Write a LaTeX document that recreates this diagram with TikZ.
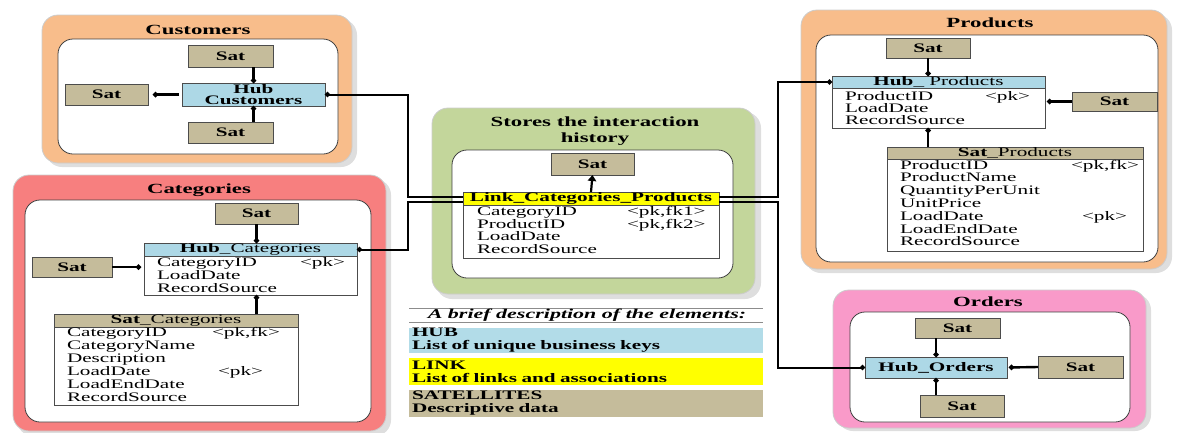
\documentclass[tikz,border=0pt]{standalone}
\usepackage{fontspec}
\setmainfont{Liberation Serif}[FakeStretch=1.63]
\usetikzlibrary{arrows.meta,calc}

\definecolor{peach}{HTML}{F8BD8B}
\definecolor{catred}{HTML}{F77F7F}
\definecolor{histgreen}{HTML}{C3D69B}
\definecolor{ordpink}{HTML}{F99AC9}
\definecolor{satc}{HTML}{C5BC9B}
\definecolor{hubc}{HTML}{ADD8E6}
\definecolor{legblue}{HTML}{B2DCE8}
\definecolor{linkc}{HTML}{FFFF00}

\begin{document}
\begin{tikzpicture}[x=1pt,y=-1pt,
  every node/.style={inner sep=0pt, outer sep=0pt},
  edge/.style={draw=black!70, line width=0.8pt},
  satbox/.style={edge, fill=satc, font=\fontsize{13}{13}\selectfont\bfseries},
  hubbox/.style={edge, fill=hubc, font=\fontsize{13}{11}\selectfont\bfseries, align=center},
  hdr/.style={edge, anchor=north west, font=\fontsize{13}{13}\selectfont},
  tbody/.style={edge, fill=white, anchor=north west},
  row/.style={anchor=mid west, font=\fontsize{13}{13}\selectfont},
  ptitle/.style={font=\fontsize{14}{16}\selectfont\bfseries, align=center},
  shadow/.style={fill=black!13, rounded corners=16pt},
  outer/.style={draw=white!80!black, line width=0.8pt, rounded corners=16pt},
  inner/.style={fill=white, draw=black!75, line width=0.8pt, rounded corners=15pt},
  sc/.style={line width=2.4pt, -{Circle[length=5pt]}},
  lc/.style={line width=2pt},
  legend/.style={anchor=north west, minimum width=354pt, minimum height=26pt,
    text width=348pt, align=left, font=\fontsize{13}{13}\selectfont\bfseries},
]
\useasboundingbox (0,0) rectangle (1179,432);

% ---------- panels ----------
% Customers
\fill[shadow] (46,19) rectangle (357,167);
\filldraw[outer, fill=peach] (42,15) rectangle (352,163);
\filldraw[inner] (58,39) rectangle (338,154);
\node[ptitle] (tcus) at (198,30) {Customers};

% Categories
\fill[shadow] (17,179) rectangle (391,436);
\filldraw[outer, fill=catred] (13,175) rectangle (386,431);
\filldraw[inner] (25,200) rectangle (371,422);
\node[ptitle] (tcat) at (199,190) {Categories};

% Link history
\fill[shadow] (436,112) rectangle (761,299);
\filldraw[outer, fill=histgreen] (432,108) rectangle (755,294);
\filldraw[inner] (452,150) rectangle (733,278);
\node[ptitle] (tlink) at (595,131) {Stores the interaction\\history};

% Products
\fill[shadow] (805,14) rectangle (1172,273);
\filldraw[outer, fill=peach] (801,10) rectangle (1167,269);
\filldraw[inner] (816,35) rectangle (1158,262);
\node[ptitle] (tprod) at (990,23) {Products};

% Orders
\fill[shadow] (837,294) rectangle (1151,431);
\filldraw[outer, fill=ordpink] (833,290) rectangle (1146,428);
\filldraw[inner] (850,312) rectangle (1130,422);
\node[ptitle] (tord) at (988,302) {Orders};

% ---------- Customers ----------
\node[satbox, minimum width=85pt, minimum height=22pt] (cs1) at (230.5,56) {Sat};
\node[hubbox, minimum width=143pt, minimum height=23pt] (hubcus) at (253.5,94.5) {Hub\\Customers};
\node[satbox, minimum width=83pt, minimum height=21pt] (cs2) at (106.5,94.5) {Sat};
\node[satbox, minimum width=85pt, minimum height=21pt] (cs3) at (230.5,132.5) {Sat};

\draw[sc] (hubcus.north |- cs1.south) -- (hubcus.north);
\draw[sc, shorten <=3pt, shorten >=5pt] (hubcus.west) -- (cs2.east);
\draw[sc] (hubcus.south |- cs3.north) -- (hubcus.south);

% ---------- Categories ----------
\node[satbox, minimum width=83pt, minimum height=21pt] (cat1) at (256.5,213.5) {Sat};
\node[satbox, minimum width=80pt, minimum height=20pt] (cat2) at (72,267) {Sat};

\node[hdr, fill=hubc, minimum width=213pt, minimum height=13pt] (hubcath) at (144,243)
  {\textbf{Hub}\_Categories};
\node[tbody, minimum width=213pt, minimum height=39pt] (hubcat) at (hubcath.south west) {};
\foreach \t [count=\i] in {CategoryID,LoadDate,RecordSource}
  \node[row] (hubcat-r\i) at (157,{251+13*\i}) {\t};
\node[row] (hubcat-k1) at (300,264) {<pk>};

\node[hdr, fill=satc, minimum width=244pt, minimum height=13pt] (satcath) at (54,314)
  {\textbf{Sat}\_Categories};
\node[tbody, minimum width=244pt, minimum height=78pt] (satcat) at (satcath.south west) {};
\foreach \t [count=\i] in {CategoryID,CategoryName,Description,LoadDate,LoadEndDate,RecordSource}
  \node[row] (satcat-r\i) at (67,{321+13*\i}) {\t};
\node[row] (satcat-k1) at (212,334) {<pk,fk>};
\node[row] (satcat-k4) at (218,373) {<pk>};

\draw[sc] (cat1.south) -- (cat1.south |- hubcath.north);
\draw[sc, shorten >=3pt] (cat2.east) -- (cat2.east -| hubcat.west);
\draw[sc] (satcath.north -| cat1.south) -- (hubcat.south -| cat1.south);

% ---------- Link ----------
\node[satbox, minimum width=83pt, minimum height=22pt] (satlink) at (592.5,164) {Sat};
\node[hdr, fill=linkc, minimum width=256pt, minimum height=13pt,
      font=\fontsize{13}{13}\selectfont\bfseries] (linkh) at (463,192)
  {Link\_Categories\_Products};
\node[tbody, minimum width=256pt, minimum height=53pt] (link) at (linkh.south west) {};
\foreach \t [count=\i] in {CategoryID,ProductID,LoadDate,RecordSource}
  \node[row] (link-r\i) at (477,{200.5+12.7*\i}) {\t};
\node[row] (link-k1) at (627,213) {<pk,fk1>};
\node[row] (link-k2) at (627,226) {<pk,fk2>};

\draw[line width=2.2pt, -{Triangle[length=6pt,width=8.5pt]}] (linkh.north) -- (satlink.south);

% ---------- Products ----------
\node[satbox, minimum width=84pt, minimum height=20pt] (satp1) at (928,48) {Sat};
\node[satbox, minimum width=85pt, minimum height=19pt] (satp2) at (1114.5,101.5) {Sat};

\node[hdr, fill=hubc, minimum width=213pt, minimum height=12pt] (hubprodh) at (832,76)
  {\textbf{Hub}\_ Products};
\node[tbody, minimum width=213pt, minimum height=40pt] (hubprod) at (hubprodh.south west) {};
\foreach \t [count=\i] in {ProductID,LoadDate,RecordSource}
  \node[row] (hubprod-r\i) at (845,{86+12*\i}) {\t};
\node[row] (hubprod-k1) at (985,98) {<pk>};

\node[hdr, fill=satc, minimum width=256pt, minimum height=12pt] (satprodh) at (887,147)
  {\textbf{Sat}\_Products};
\node[tbody, minimum width=256pt, minimum height=92pt] (satprod) at (satprodh.south west) {};
\foreach \t [count=\i] in {ProductID,ProductName,QuantityPerUnit,UnitPrice,LoadDate,LoadEndDate,RecordSource}
  \node[row] (satprod-r\i) at (900,{154+12.8*\i}) {\t};
\node[row] (satprod-k1) at (1071,167) {<pk,fk>};
\node[row] (satprod-k5) at (1082,218) {<pk>};

\draw[sc] (satp1.south) -- (satp1.south |- hubprodh.north);
\draw[sc, shorten >=2pt] (satp2.west) -- (satp2.west -| hubprod.east);
\draw[sc] (satprodh.north -| satp1.south) -- (hubprod.south -| satp1.south);

% ---------- Orders ----------
\node[satbox, minimum width=85pt, minimum height=20pt] (so1) at (957.5,328) {Sat};
\node[hubbox, minimum width=142pt, minimum height=21pt] (hubord) at (936,367.5) {Hub\_Orders};
\node[satbox, minimum width=85pt, minimum height=22pt] (so2) at (1080.5,367) {Sat};
\node[satbox, minimum width=84pt, minimum height=22pt] (so3) at (962,406) {Sat};

\draw[sc] (hubord.north |- so1.south) -- (hubord.north);
\draw[sc, shorten >=2pt] (so2.west) -- (hubord.east);
\draw[sc] (hubord.south |- so3.north) -- (hubord.south);

% ---------- hub-to-link connectors ----------
\coordinate (lx) at (408,0);
\coordinate (rx) at (778,0);
\coordinate (L1) at ($(linkh.west)+(0,-1.5)$);
\coordinate (L2) at ($(linkh.west)+(0,3.5)$);
\coordinate (R1) at ($(linkh.east)+(0,-1.5)$);
\coordinate (R2) at ($(linkh.east)+(0,3.5)$);

\draw[lc, {Circle[length=5pt]}-] (hubcus.east) -- (lx |- hubcus.east) -- (lx |- L1) -- (L1);
\draw[lc, {Circle[length=5pt]}-] (hubcath.east) -- (lx |- hubcath.east) -- (lx |- L2) -- (L2);
\draw[lc, -{Circle[length=5pt]}] (R1) -- (rx |- R1) -- (rx |- hubprodh.west) -- (hubprodh.west);
\draw[lc, -{Circle[length=5pt]}] (R2) -- (rx |- R2) -- (rx |- hubord.west) -- (hubord.west);

% ---------- legend ----------
\draw[black!45, line width=0.8pt] (409,308) -- (763,308);
\node[font=\fontsize{13.5}{14}\selectfont\bfseries\itshape] (legtitle) at (587,315.5)
  {A brief description of the elements:};
\draw[black!45, line width=0.8pt] (409,322) -- (763,322);
\node[legend, fill=legblue, minimum height=25pt] (leghub) at (409,328)
  {HUB\\List of unique business keys};
\node[legend, fill=linkc, minimum height=27pt] (leglink) at (409,358)
  {LINK\\List of links and associations};
\node[legend, fill=satc, minimum height=27pt] (legsat) at (409,390)
  {SATELLITES\\Descriptive data};
\end{tikzpicture}
\end{document}
